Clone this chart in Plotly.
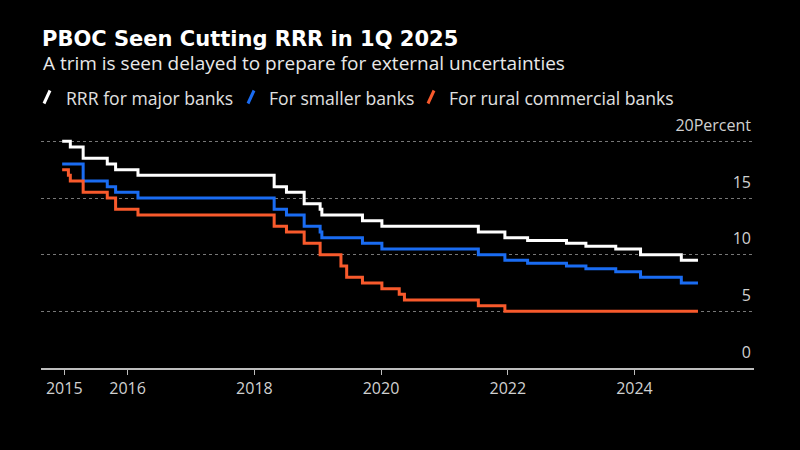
import plotly.graph_objects as go

# ---- Data ----
major_dates = ["2014-12-20", "2015-02-05", "2015-04-20", "2015-09-06", "2015-10-24",
               "2016-03-01", "2018-04-25", "2018-07-05", "2018-10-15", "2019-01-15",
               "2019-01-25", "2019-09-16", "2020-01-06", "2021-07-15", "2021-12-15",
               "2022-04-25", "2022-12-05", "2023-03-27", "2023-09-15", "2024-02-05",
               "2024-09-27", "2025-01-01"]
major_vals = [20.0, 19.5, 18.5, 18.0, 17.5,
              17.0, 16.0, 15.5, 14.5, 14.0,
              13.5, 13.0, 12.5, 12.0, 11.5,
              11.25, 11.0, 10.75, 10.5, 10.0,
              9.5, 9.5]

small_dates = ["2014-12-20", "2015-04-20", "2015-09-06", "2015-10-24", "2016-03-01",
               "2018-04-25", "2018-07-05", "2018-10-15", "2019-01-15", "2019-01-25",
               "2019-09-16", "2020-01-06", "2021-07-15", "2021-12-15", "2022-04-25",
               "2022-12-05", "2023-03-27", "2023-09-15", "2024-02-05", "2024-09-27",
               "2025-01-01"]
small_vals = [18.0, 16.5, 16.0, 15.5, 15.0,
              14.0, 13.5, 12.5, 12.0, 11.5,
              11.0, 10.5, 10.0, 9.5, 9.25,
              9.0, 8.75, 8.5, 8.0, 7.5,
              7.5]

rural_dates = ["2014-12-20", "2015-01-25", "2015-02-05", "2015-04-20", "2015-09-06",
               "2015-10-24", "2016-03-01", "2018-04-25", "2018-07-05", "2018-10-15",
               "2019-01-15", "2019-05-15", "2019-06-17", "2019-09-16", "2020-01-06",
               "2020-04-15", "2020-05-15", "2021-07-15", "2021-12-15", "2025-01-01"]
rural_vals = [17.5, 17.0, 16.5, 15.5, 15.0,
              14.0, 13.5, 12.5, 12.0, 11.0,
              10.0, 9.0, 8.0, 7.5, 7.0,
              6.5, 6.0, 5.5, 5.0, 5.0]

series_names = ["RRR for major banks", "For smaller banks", "For rural commercial banks"]
series_colors = ["#ffffff", "#1a6cf2", "#f85a2c"]

x_tick_vals = ["2015-01-01", "2016-01-01", "2018-01-01", "2020-01-01", "2022-01-01", "2024-01-01"]
x_tick_text = ["2015", "2016", "2018", "2020", "2022", "2024"]
y_tick_vals = [0, 5, 10, 15, 20]
y_tick_text = ["0", "5", "10", "15", "20Percent"]

title_text = "PBOC Seen Cutting RRR in 1Q 2025"
subtitle_text = "A trim is seen delayed to prepare for external uncertainties"

# ---- Figure ----
FONT = "Open Sans"
fig = go.Figure()
for dates, vals, name, color in zip([major_dates, small_dates, rural_dates],
                                    [major_vals, small_vals, rural_vals],
                                    series_names, series_colors):
    fig.add_trace(go.Scatter(x=dates, y=vals, name=name, mode="lines",
                             line=dict(color=color, width=3, shape="hv"),
                             showlegend=False))

W, H = 800, 450
ML, MR, MT, MB = 41, 46, 113, 82
PW, PH = W - ML - MR, H - MT - MB

def px_x(p):
    return (p - ML) / PW

def px_y(p):
    return (H - MB - p) / PH

# custom legend: slanted strokes + labels
legend_slash_x = [43, 247, 427]
legend_label_x = [64, 267, 447]
legend_y = 97
shapes = []
annotations = []
for sx, lx, name, color in zip(legend_slash_x, legend_label_x, series_names, series_colors):
    shapes.append(dict(type="line", xref="paper", yref="paper",
                       x0=px_x(sx + 1), y0=px_y(legend_y + 6.5), x1=px_x(sx + 7), y1=px_y(legend_y - 6.5),
                       line=dict(color=color, width=3)))
    annotations.append(dict(text=name, xref="paper", yref="paper", x=px_x(lx), y=px_y(legend_y + 1),
                            xanchor="left", yanchor="middle", showarrow=False,
                            font=dict(family=FONT, size=17.6, color="#e0e0e0")))

annotations.append(dict(text=subtitle_text, xref="paper", yref="paper", x=px_x(41), y=px_y(63),
                        xanchor="left", yanchor="middle", showarrow=False,
                        font=dict(family=FONT, size=19, color="#e8e8e8")))

fig.update_layout(
    width=W, height=H,
    paper_bgcolor="#000000", plot_bgcolor="#000000",
    margin=dict(l=ML, r=MR, t=MT, b=MB),
    title=dict(text="<b>" + title_text + "</b>", x=42 / W, xref="container", xanchor="left",
               y=1 - 39 / H, yref="container", yanchor="middle",
               font=dict(family="DejaVu Sans", size=21, color="#ffffff")),
    shapes=shapes,
    annotations=annotations,
    xaxis=dict(type="date", range=["2014-08-20", "2025-11-20"],
               tickvals=x_tick_vals, ticktext=x_tick_text,
               ticks="outside", ticklen=5, tickcolor="#bdbdbd", tickwidth=1,
               showline=True, linecolor="#bdbdbd", linewidth=1.5,
               showgrid=False, zeroline=False,
               tickfont=dict(family=FONT, size=16, color="#d0d0d0")),
    yaxis=dict(range=[0, 22.5], side="right", tickvals=y_tick_vals, ticktext=y_tick_text,
               ticklabelposition="inside", ticklabelshift=-16, ticks="",
               showgrid=True, gridcolor="#777777", gridwidth=1, griddash="dot",
               zeroline=False, showline=False,
               tickfont=dict(family=FONT, size=16, color="#d0d0d0")),
)

fig.write_html("out.html", config={"displayModeBar": False},
               post_script="document.body.style.margin='0';document.body.style.overflow='hidden';")
